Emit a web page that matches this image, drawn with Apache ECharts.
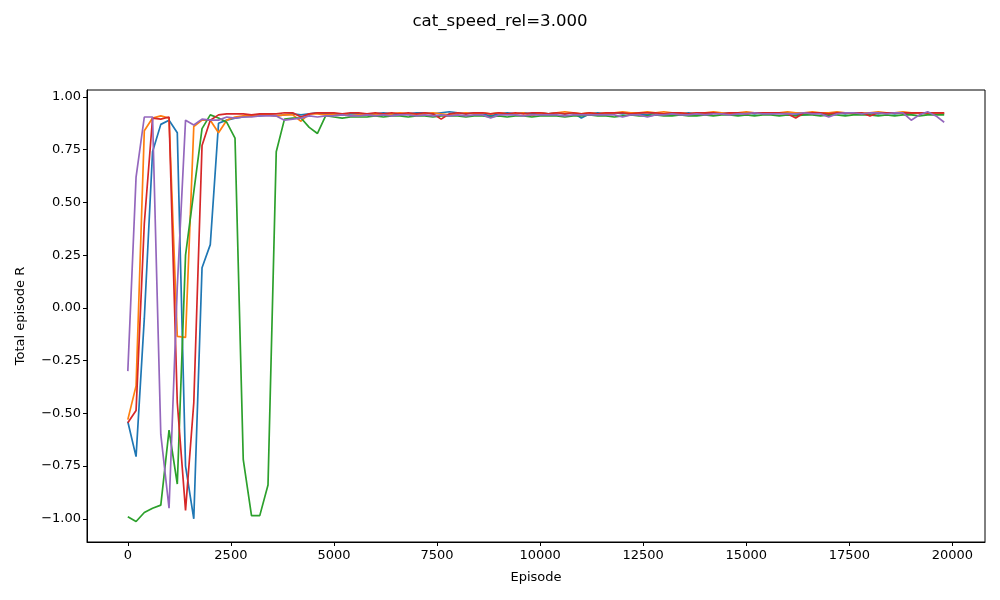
<!DOCTYPE html>
<html>
<head>
<meta charset="utf-8">
<script src="https://cdn.jsdelivr.net/npm/echarts@6/dist/echarts.min.js"></script>
<style>html,body{margin:0;padding:0;background:#fff}#c{width:1000px;height:600px}</style>
</head>
<body>
<div id="c"></div>
<script>
const episodes = [0,200,400,600,800,1000,1200,1400,1600,1800,2000,2200,2400,2600,2800,3000,3200,3400,3600,3800,
4000,4200,4400,4600,4800,5000,5200,5400,5600,5800,6000,6200,6400,6600,6800,7000,7200,7400,7600,7800,
8000,8200,8400,8600,8800,9000,9200,9400,9600,9800,10000,10200,10400,10600,10800,11000,11200,11400,11600,11800,
12000,12200,12400,12600,12800,13000,13200,13400,13600,13800,14000,14200,14400,14600,14800,15000,15200,15400,15600,15800,
16000,16200,16400,16600,16800,17000,17200,17400,17600,17800,18000,18200,18400,18600,18800,19000,19200,19400,19600,19800];

const blue = [-0.54,-0.705,-0.05,0.74,0.87,0.89,0.83,-0.75,-1.0,0.19,
0.30,0.875,0.89,0.90,0.905,0.91,0.91,0.915,0.91,0.915,
0.92,0.915,0.92,0.925,0.92,0.92,0.915,0.92,0.92,0.915,
0.92,0.925,0.92,0.915,0.92,0.925,0.925,0.92,0.925,0.93,
0.925,0.92,0.925,0.92,0.91,0.92,0.925,0.92,0.925,0.92,
0.925,0.92,0.925,0.92,0.925,0.90,0.92,0.925,0.92,0.925,
0.92,0.925,0.92,0.915,0.925,0.92,0.925,0.92,0.925,0.92,
0.92,0.925,0.92,0.925,0.92,0.925,0.92,0.925,0.92,0.925,
0.925,0.92,0.915,0.92,0.925,0.91,0.925,0.92,0.925,0.92,
0.925,0.92,0.925,0.92,0.925,0.92,0.925,0.92,0.925,0.92];

const orange = [-0.53,-0.37,0.84,0.90,0.91,0.90,-0.135,-0.14,0.86,0.89,
0.89,0.83,0.89,0.905,0.91,0.91,0.915,0.915,0.91,0.915,
0.915,0.885,0.92,0.92,0.915,0.92,0.92,0.91,0.915,0.92,
0.92,0.915,0.92,0.925,0.92,0.915,0.92,0.925,0.92,0.915,
0.92,0.925,0.92,0.925,0.92,0.925,0.92,0.92,0.925,0.91,
0.925,0.92,0.925,0.93,0.925,0.92,0.925,0.92,0.925,0.925,
0.93,0.925,0.925,0.93,0.925,0.93,0.925,0.925,0.92,0.925,
0.925,0.93,0.925,0.92,0.925,0.93,0.925,0.925,0.92,0.925,
0.93,0.925,0.925,0.93,0.925,0.925,0.93,0.925,0.92,0.925,
0.925,0.93,0.925,0.925,0.93,0.925,0.925,0.92,0.925,0.925];

const green = [-0.99,-1.013,-0.97,-0.95,-0.935,-0.58,-0.835,0.25,0.55,0.85,
0.915,0.90,0.88,0.805,-0.72,-0.985,-0.985,-0.84,0.74,0.895,
0.90,0.90,0.856,0.827,0.911,0.905,0.90,0.905,0.905,0.905,
0.91,0.905,0.91,0.91,0.905,0.91,0.91,0.905,0.91,0.91,
0.91,0.905,0.91,0.91,0.905,0.91,0.905,0.91,0.91,0.905,
0.91,0.91,0.91,0.905,0.91,0.91,0.915,0.91,0.91,0.905,
0.91,0.915,0.91,0.91,0.915,0.91,0.91,0.915,0.91,0.91,
0.915,0.91,0.915,0.915,0.91,0.915,0.91,0.915,0.915,0.91,
0.915,0.91,0.915,0.915,0.91,0.915,0.915,0.91,0.915,0.915,
0.915,0.91,0.915,0.91,0.915,0.915,0.91,0.915,0.915,0.915];

const red = [-0.545,-0.487,0.4,0.90,0.895,0.905,-0.45,-0.96,-0.45,0.77,
0.89,0.915,0.92,0.92,0.92,0.915,0.92,0.92,0.92,0.925,
0.925,0.905,0.92,0.925,0.925,0.925,0.92,0.925,0.925,0.92,
0.925,0.92,0.925,0.92,0.925,0.92,0.925,0.92,0.895,0.92,
0.925,0.92,0.925,0.925,0.92,0.925,0.92,0.925,0.92,0.925,
0.925,0.92,0.925,0.92,0.925,0.92,0.925,0.92,0.925,0.925,
0.925,0.92,0.925,0.925,0.925,0.92,0.925,0.925,0.92,0.925,
0.925,0.925,0.92,0.925,0.925,0.92,0.925,0.925,0.925,0.925,
0.92,0.90,0.925,0.925,0.925,0.92,0.925,0.925,0.925,0.925,
0.91,0.925,0.925,0.925,0.925,0.925,0.925,0.925,0.925,0.925];

const purple = [-0.30,0.62,0.905,0.905,-0.6,-0.95,0.1,0.89,0.867,0.895,
0.89,0.89,0.905,0.90,0.905,0.905,0.91,0.91,0.91,0.89,
0.895,0.90,0.91,0.905,0.91,0.91,0.915,0.91,0.91,0.915,
0.91,0.915,0.91,0.915,0.915,0.91,0.915,0.91,0.915,0.91,
0.915,0.91,0.915,0.915,0.90,0.915,0.915,0.915,0.91,0.915,
0.915,0.915,0.915,0.91,0.915,0.915,0.915,0.915,0.915,0.915,
0.905,0.915,0.915,0.905,0.915,0.915,0.92,0.915,0.915,0.92,
0.915,0.92,0.92,0.915,0.92,0.92,0.925,0.92,0.92,0.92,
0.92,0.92,0.925,0.92,0.92,0.905,0.92,0.925,0.925,0.92,
0.925,0.925,0.92,0.925,0.925,0.89,0.915,0.93,0.91,0.88];

const xTicks = [0,2500,5000,7500,10000,12500,15000,17500,20000];
const yTicks = [-1.0,-0.75,-0.5,-0.25,0,0.25,0.5,0.75,1.0];
const titleText = 'cat_speed_rel=3.000';
const xName = 'Episode';
const yName = 'Total episode R';

const seriesList = [
  {vals: blue, color: '#1f77b4'},
  {vals: orange, color: '#ff7f0e'},
  {vals: green, color: '#2ca02c'},
  {vals: red, color: '#d62728'},
  {vals: purple, color: '#9467bd'}
];

const font = 'DejaVu Sans';
const chart = echarts.init(document.getElementById('c'), null, {renderer: 'canvas'});
chart.setOption({
  animation: false,
  backgroundColor: '#fff',
  title: {
    text: titleText, left: 'center', top: 8,
    textStyle: {fontFamily: font, fontSize: 16.6, fontWeight: 'normal', color: '#000'}
  },
  grid: {left: 87, right: 15, top: 90, bottom: 58, show: true, borderColor: '#000', borderWidth: 1, backgroundColor: 'transparent'},
  xAxis: {
    type: 'value', min: -990, max: 20790,
    name: xName, nameLocation: 'middle', nameGap: 29,
    nameTextStyle: {fontFamily: font, fontSize: 13, color: '#000'},
    axisLine: {show: true, onZero: false, lineStyle: {color: '#000', width: 1}},
    axisTick: {show: true, length: 4, inside: false, customValues: xTicks, lineStyle: {color: '#000'}},
    axisLabel: {customValues: xTicks, fontFamily: font, fontSize: 13, color: '#000', margin: 7,
      formatter: v => String(v)},
    splitLine: {show: false}
  },
  yAxis: {
    type: 'value', min: -1.11, max: 1.033,
    name: yName, nameLocation: 'middle', nameGap: 60, nameRotate: 90,
    nameTextStyle: {fontFamily: font, fontSize: 13, color: '#000'},
    axisLine: {show: true, onZero: false, lineStyle: {color: '#000', width: 1}},
    axisTick: {show: true, length: 4, inside: false, customValues: yTicks, lineStyle: {color: '#000'}},
    axisLabel: {customValues: yTicks, fontFamily: font, fontSize: 13, color: '#000', margin: 6,
      formatter: v => (v < 0 ? '\u2212' : '') + Math.abs(v).toFixed(2)},
    splitLine: {show: false}
  },
  series: seriesList.map(s => ({
    type: 'line',
    data: episodes.map((e, i) => [e, s.vals[i]]),
    showSymbol: false,
    symbol: 'none',
    lineStyle: {color: s.color, width: 1.7},
    itemStyle: {color: s.color},
    silent: true
  }))
});
</script>
</body>
</html>
